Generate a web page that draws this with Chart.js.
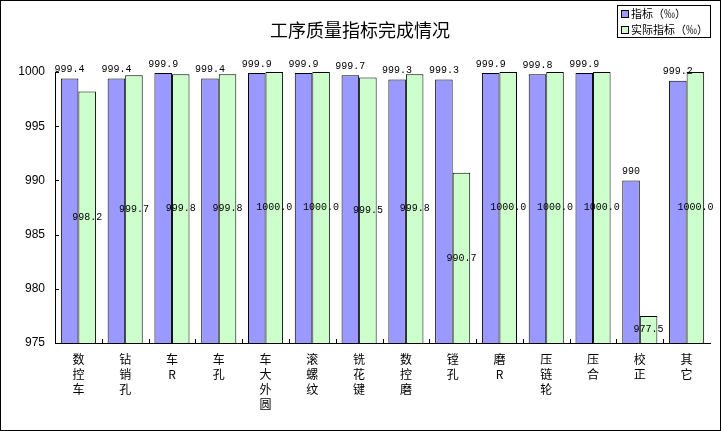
<!DOCTYPE html>
<html>
<head>
<meta charset="utf-8">
<script src="https://cdn.jsdelivr.net/npm/chart.js@4"></script>
<style>
  body { margin: 0; background: #fff; }
</style>
</head>
<body>
<canvas id="qualityChart" width="721" height="431"></canvas>
<script>
// categories, each one stacked vertically one char per line
const categories = ['数控车', '钻销孔', '车R', '车孔', '车大外圆', '滚螺纹', '铣花键', '数控磨', '镗孔', '磨R', '压链轮', '压合', '校正', '其它'];
const targetValues = [999.4, 999.4, 999.9, 999.4, 999.9, 999.9, 999.7, 999.3, 999.3, 999.9, 999.8, 999.9, 990, 999.2];
const actualValues = [998.2, 999.7, 999.8, 999.8, 1000.0, 1000.0, 999.5, 999.8, 990.7, 1000.0, 1000.0, 1000.0, 977.5, 1000.0];
const yTicks = [975, 980, 985, 990, 995, 1000];
const seriesNames = ['指标（‰）', '实际指标（‰）'];
const chartTitle = '工序质量指标完成情况';

const BLUE = '#9999ff';
const GREEN = '#ccffcc';
const CJK = '"Noto Sans CJK SC", "Noto Sans", sans-serif';
const MONO = '"Liberation Mono", "DejaVu Sans Mono", monospace';

function splitChars(name) {
    return name.split('');
}

// frame, title, legend, inward ticks and value labels
const decorPlugin = {
    id: 'decor',
    beforeDraw(chart) {
        const ctx = chart.ctx;
        ctx.save();
        ctx.fillStyle = '#fff';
        ctx.fillRect(0, 0, chart.width, chart.height);
        ctx.restore();
    },
    afterDatasetsDraw(chart) {
        const ctx = chart.ctx;
        const area = chart.chartArea;
        const x = chart.scales.x;
        const y = chart.scales.y;
        ctx.save();

        // inward tick marks
        ctx.strokeStyle = '#000';
        ctx.lineWidth = 1;
        ctx.beginPath();
        yTicks.forEach(v => {
            const py = Math.round(y.getPixelForValue(v)) + 0.5;
            ctx.moveTo(area.left, py);
            ctx.lineTo(area.left + 4, py);
        });
        for (let i = 1; i < categories.length; i++) {
            const px = Math.round((x.getPixelForValue(i - 1) + x.getPixelForValue(i)) / 2) + 0.5;
            ctx.moveTo(px, area.bottom);
            ctx.lineTo(px, area.bottom - 4);
        }
        ctx.stroke();

        // value labels
        ctx.fillStyle = '#000';
        ctx.font = '10px ' + MONO;
        ctx.textAlign = 'center';
        ctx.textBaseline = 'middle';
        const blueBars = chart.getDatasetMeta(0).data;
        const greenBars = chart.getDatasetMeta(1).data;
        targetValues.forEach((v, i) => {
            ctx.fillText(String(v), blueBars[i].x, y.getPixelForValue(v) - 9);
        });
        actualValues.forEach((v, i) => {
            const mid = (y.getPixelForValue(v) + area.bottom) / 2;
            ctx.fillText(v.toFixed(1), greenBars[i].x, mid);
        });

        ctx.restore();
    },
    afterDraw(chart) {
        const ctx = chart.ctx;
        ctx.save();
        ctx.strokeStyle = '#000';
        ctx.lineWidth = 1;
        ctx.strokeRect(0.5, 0.5, chart.width - 1, chart.height - 1);

        // title
        ctx.fillStyle = '#000';
        ctx.font = '18px ' + CJK;
        ctx.textAlign = 'center';
        ctx.textBaseline = 'middle';
        ctx.fillText(chartTitle, 360, 30);

        // legend box
        ctx.strokeRect(617.5, 5.5, 93, 32);
        ctx.font = '11px ' + CJK;
        ctx.textAlign = 'left';
        const colors = [BLUE, GREEN];
        seriesNames.forEach((name, i) => {
            const cy = 14 + i * 16;
            ctx.fillStyle = colors[i];
            ctx.fillRect(621, cy - 3.5, 7, 7);
            ctx.strokeRect(621.5, cy - 3.5, 7, 7);
            ctx.fillStyle = '#000';
            ctx.fillText(name, 631, cy);
        });
        ctx.restore();
    }
};

new Chart(document.getElementById('qualityChart'), {
    type: 'bar',
    data: {
        labels: categories.map(splitChars),
        datasets: [{
            label: seriesNames[0],
            data: targetValues,
            backgroundColor: BLUE,
            borderColor: '#000',
            borderWidth: 1,
            categoryPercentage: 0.75,
            barPercentage: 1.0
        }, {
            label: seriesNames[1],
            data: actualValues,
            backgroundColor: GREEN,
            borderColor: '#000',
            borderWidth: 1,
            categoryPercentage: 0.75,
            barPercentage: 1.0
        }]
    },
    options: {
        responsive: false,
        animation: false,
        devicePixelRatio: 1,
        layout: { padding: { top: 72, right: 11, left: 0, bottom: 0 } },
        plugins: {
            legend: { display: false },
            tooltip: { enabled: false },
            title: { display: false }
        },
        scales: {
            x: {
                grid: { display: false, drawTicks: false },
                border: { color: '#000', width: 1 },
                ticks: {
                    color: '#000',
                    maxRotation: 0,
                    autoSkip: false,
                    padding: 9,
                    font: { family: CJK, size: 12, lineHeight: 1.25 }
                },
                afterFit(scale) { scale.height = 88; }
            },
            y: {
                min: 975,
                max: 1000,
                grid: { display: false, drawTicks: false },
                border: { color: '#000', width: 1 },
                afterBuildTicks(scale) {
                    scale.ticks = yTicks.map(v => ({ value: v }));
                },
                ticks: {
                    color: '#000',
                    padding: 10,
                    font: { family: '"Liberation Sans", sans-serif', size: 12 },
                    callback: v => String(v)
                },
                afterFit(scale) { scale.width = 55; }
            }
        }
    },
    plugins: [decorPlugin]
});
</script>
</body>
</html>
